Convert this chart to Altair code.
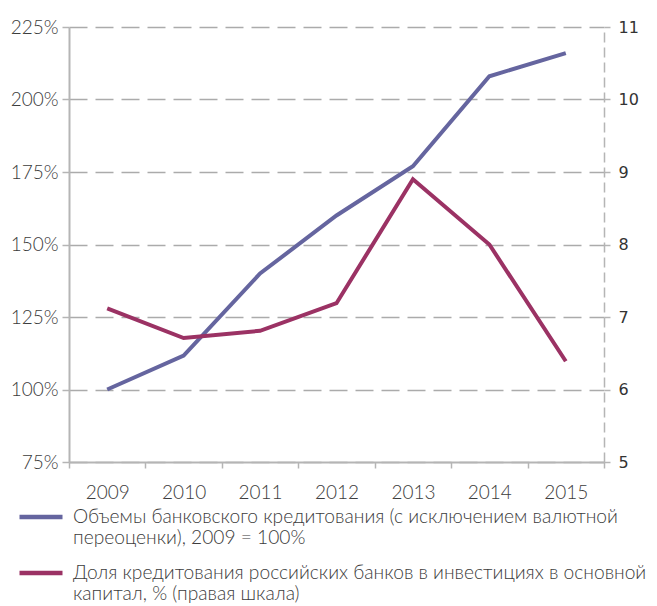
import altair as alt
import pandas as pd

years = ["2009", "2010", "2011", "2012", "2013", "2014", "2015"]
credit_volume = [100, 111.7, 140, 160, 177, 208, 216]
credit_share = [7.12, 6.71, 6.81, 7.19, 8.90, 8.00, 6.39]

series_names = [
    "Объемы банковского кредитования (с исключением валютной|переоценки), 2009 = 100%",
    "Доля кредитования российских банков в инвестициях в основной|капитал, % (правая шкала)",
]
colors = ["#65659f", "#9b3264"]
left_ticks = [75, 100, 125, 150, 175, 200, 225]
right_ticks = [5, 6, 7, 8, 9, 10, 11]

rows = []
for y, v in zip(years, credit_volume):
    rows.append({"year": y, "series": series_names[0], "value": v})
for y, v in zip(years, credit_share):
    rows.append({"year": y, "series": series_names[1], "value": v})
df = pd.DataFrame(rows)

x_enc = alt.X(
    "year:O",
    scale=alt.Scale(type="band", paddingInner=0, paddingOuter=0),
    axis=alt.Axis(
        title=None, labelAngle=0, tickBand="extent", grid=False,
        domainColor="#b5b5b5", domainWidth=2, tickColor="#b5b5b5", tickWidth=1.5,
        tickSize=6, labelPadding=15, labelFont="Lato", labelFontWeight=300,
        labelFontSize=19, labelColor="#3c3c3c",
    ),
)

color_enc = alt.Color(
    "series:N",
    scale=alt.Scale(domain=series_names, range=colors),
    legend=alt.Legend(
        title=None, orient="none", legendX=-52, legendY=466,
        direction="vertical", symbolType="stroke", symbolSize=1849,
        symbolStrokeWidth=4.5, labelOffset=8, labelFont="Lato",
        labelFontWeight=300,
        labelFontSize=19.2, labelColor="#3c3c3c", labelLimit=700,
        labelExpr="split(datum.label, '|')",
        rowPadding=0, padding=0,
    ),
)

left = alt.Chart(df).transform_filter(
    alt.datum.series == series_names[0]
).mark_line(strokeWidth=4).encode(
    x=x_enc,
    y=alt.Y(
        "value:Q",
        scale=alt.Scale(domain=[75, 225], nice=False, zero=False),
        axis=alt.Axis(
            title=None, values=left_ticks, labelExpr="datum.value + '%'",
            grid=True, gridDash=[18, 8], gridColor="#ababab", gridWidth=1.5,
            domainColor="#b5b5b5", domainWidth=2, tickColor="#b5b5b5",
            tickSize=7, tickWidth=1.5, labelPadding=4, labelFont="Lato",
            labelFontWeight=300,
            labelFontSize=19, labelColor="#3c3c3c",
        ),
    ),
    color=color_enc,
)

right = alt.Chart(df).transform_filter(
    alt.datum.series == series_names[1]
).mark_line(strokeWidth=4).encode(
    x=x_enc,
    y=alt.Y(
        "value:Q",
        scale=alt.Scale(domain=[5, 11], nice=False, zero=False),
        axis=alt.Axis(
            title=None, orient="right", values=right_ticks, grid=False,
            domainColor="#b5b5b5", domainWidth=1.5, domainDash=[10, 5],
            tickColor="#b5b5b5", tickSize=6, tickWidth=1.5, labelPadding=8,
            labelFont="DejaVu Sans", labelFontSize=16, labelColor="#333333",
        ),
    ),
    color=color_enc,
)

chart = alt.layer(left, right).resolve_scale(y="independent").properties(
    width=535,
    height=435,
    autosize=alt.AutoSizeParams(type="none"),
    padding={"left": 69, "top": 27, "right": 53, "bottom": 144},
).configure_view(stroke=None)

chart.save("out.html", embed_options={"renderer": "svg", "actions": False})
